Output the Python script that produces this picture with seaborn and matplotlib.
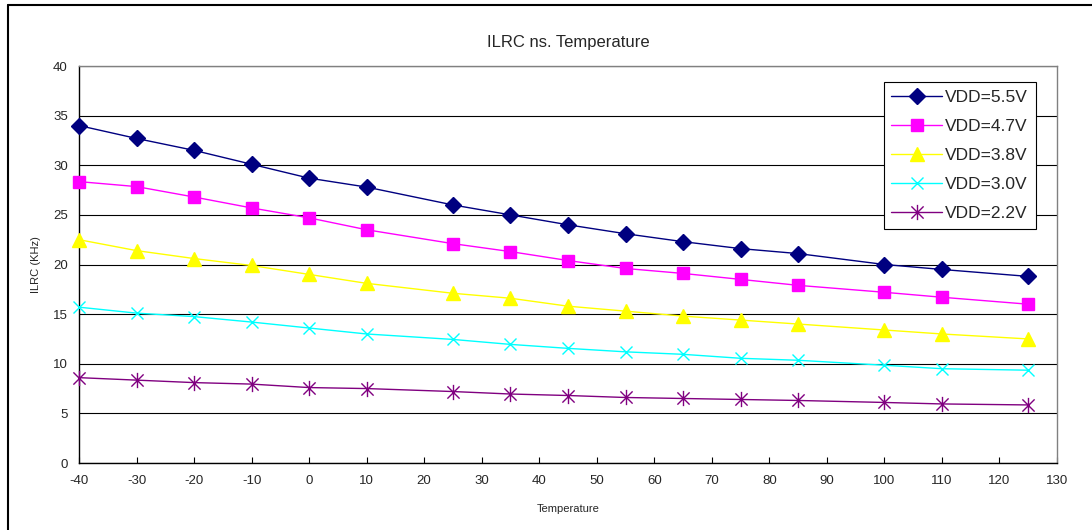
import matplotlib
matplotlib.use("Agg")
import matplotlib.pyplot as plt
from matplotlib.path import Path
from matplotlib.lines import Line2D
import seaborn as sns
import pandas as pd

# data
temperature = [-40, -30, -20, -10, 0, 10, 25, 35, 45, 55, 65, 75, 85, 100, 110, 125]
vdd_55 = [34.0, 32.7, 31.5, 30.1, 28.7, 27.8, 26.0, 25.0, 24.0, 23.1, 22.3, 21.6, 21.1, 20.0, 19.5, 18.8]
vdd_47 = [28.35, 27.85, 26.8, 25.7, 24.7, 23.5, 22.1, 21.3, 20.4, 19.6, 19.1, 18.5, 17.9, 17.2, 16.7, 16.0]
vdd_38 = [22.5, 21.4, 20.6, 19.9, 19.0, 18.1, 17.1, 16.6, 15.8, 15.3, 14.8, 14.4, 14.0, 13.4, 13.0, 12.5]
vdd_30 = [15.7, 15.1, 14.75, 14.2, 13.6, 13.0, 12.45, 11.95, 11.55, 11.2, 10.95, 10.55, 10.35, 9.85, 9.5, 9.35]
vdd_22 = [8.6, 8.35, 8.1, 7.95, 7.6, 7.5, 7.2, 6.95, 6.8, 6.6, 6.5, 6.4, 6.3, 6.1, 5.95, 5.85]
labels = ["VDD=5.5V", "VDD=4.7V", "VDD=3.8V", "VDD=3.0V", "VDD=2.2V"]

sns.set_theme(style="white")
plt.rcParams["font.family"] = ["Liberation Sans", "DejaVu Sans"]
plt.rcParams["axes.unicode_minus"] = False

# excel style star: x with a vertical bar
star = Path([(0, -1), (0, 1), (-0.8, -0.8), (0.8, 0.8), (-0.8, 0.8), (0.8, -0.8)],
            [Path.MOVETO, Path.LINETO, Path.MOVETO, Path.LINETO, Path.MOVETO, Path.LINETO])

styles = [
    ("#000080", "D", 8),
    ("#FF00FF", "s", 9),
    ("#FFFF00", "^", 10),
    ("#00FFFF", "x", 9),
    ("#800080", star, 11),
]

fig = plt.figure(figsize=(10.92, 5.30), dpi=100)
ax = fig.add_axes([79 / 1092, 67 / 530, 978 / 1092, 397 / 530])

for series, label, (color, marker, size) in zip([vdd_55, vdd_47, vdd_38, vdd_30, vdd_22], labels, styles):
    df = pd.DataFrame({"temp": temperature, "ilrc": series})
    sns.lineplot(data=df, x="temp", y="ilrc", ax=ax, color=color, linewidth=1.0,
                 marker=marker, markersize=size, markeredgecolor=color,
                 markerfacecolor=color, markeredgewidth=1.0, label=label,
                 clip_on=False, zorder=3)

ax.set_xlim(-40, 130)
ax.set_ylim(0, 40)
ax.set_xticks(range(-40, 131, 10))
ax.set_yticks(range(0, 41, 5))
ax.yaxis.grid(True, color="black", linewidth=0.8)
ax.xaxis.grid(False)
ax.set_axisbelow(True)
ax.tick_params(axis="x", direction="in", length=4, width=0.8, color="black",
               labelsize=9.5, pad=9, bottom=True)
ax.tick_params(axis="y", length=0, labelsize=9.5, pad=8)
for side in ["left", "bottom"]:
    ax.spines[side].set_color("black")
    ax.spines[side].set_linewidth(1.0)
for side in ["top", "right"]:
    ax.spines[side].set_color("#808080")
    ax.spines[side].set_linewidth(1.0)

ax.set_title("ILRC ns. Temperature", fontsize=12, pad=14)
ax.set_xlabel("Temperature", fontsize=8, labelpad=12)
ax.set_ylabel("ILRC (KHz)", fontsize=8, labelpad=9)

leg = ax.legend(loc="upper right", bbox_to_anchor=(0.9785, 0.96), borderaxespad=0,
                fontsize=12.5, frameon=True, fancybox=False, handlelength=2.9,
                handletextpad=0.2, labelspacing=0.8, borderpad=0.45)
leg.get_frame().set_edgecolor("black")
leg.get_frame().set_linewidth(0.8)
leg.get_frame().set_alpha(1)

# outer chart border (left and top edges visible)
fig.add_artist(Line2D([8 / 1092, 8 / 1092], [0, 1 - 5 / 530], color="black", linewidth=1.5))
fig.add_artist(Line2D([8 / 1092, 1], [1 - 5 / 530, 1 - 5 / 530], color="black", linewidth=1.5))

fig.savefig("out.png", dpi=100)
